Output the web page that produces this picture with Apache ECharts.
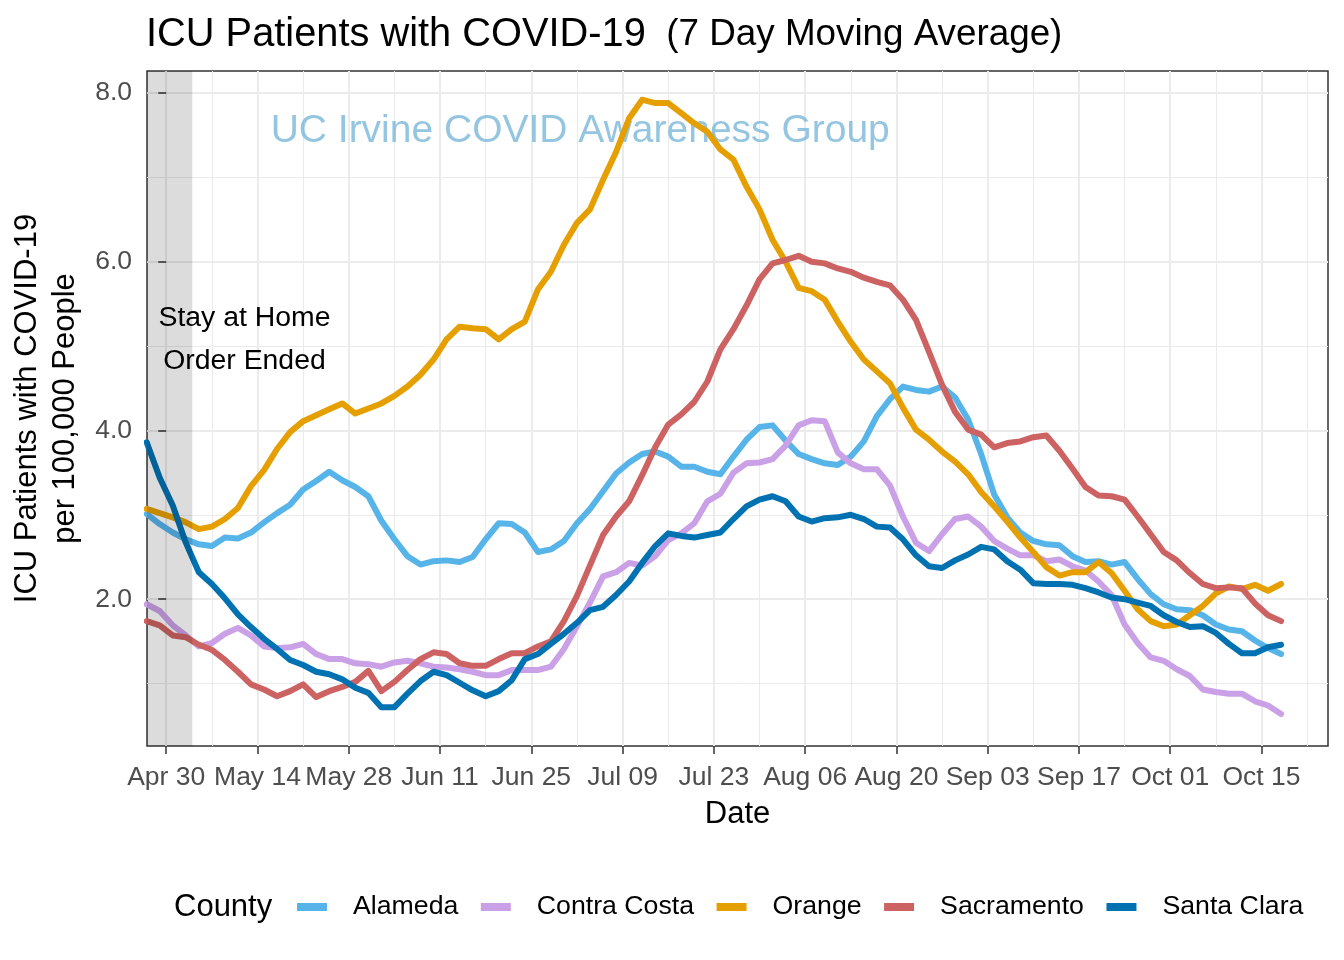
<!DOCTYPE html>
<html><head><meta charset="utf-8">
<script src="https://cdn.jsdelivr.net/npm/echarts@6/dist/echarts.min.js"></script>
<style>html,body{margin:0;padding:0;background:#fff}#c{width:1344px;height:960px}</style>
</head><body><div id="c"></div>
<script>
// days after Apr 30, 2020 (sampled every 2 days)
const days = [-3,-1,1,3,5,7,9,11,13,15,17,19,21,23,25,27,29,31,33,35,37,39,41,43,45,47,49,51,53,55,57,59,61,63,65,67,69,71,73,75,77,79,81,83,85,87,89,91,93,95,97,99,101,103,105,107,109,111,113,115,117,119,121,123,125,127,129,131,133,135,137,139,141,143,145,147,149,151,153,155,157,159,161,163,165,167,169,171];

const alameda = [3.01,2.89,2.79,2.71,2.65,2.63,2.73,2.72,2.79,2.91,3.02,3.12,3.30,3.40,3.51,3.41,3.33,3.22,2.93,2.71,2.51,2.41,2.45,2.46,2.44,2.50,2.71,2.90,2.89,2.79,2.56,2.59,2.69,2.90,3.07,3.28,3.49,3.62,3.72,3.75,3.69,3.57,3.57,3.51,3.48,3.69,3.89,4.04,4.06,3.88,3.72,3.66,3.61,3.59,3.69,3.87,4.17,4.37,4.52,4.48,4.46,4.52,4.39,4.13,3.72,3.24,2.97,2.79,2.69,2.65,2.64,2.51,2.44,2.45,2.41,2.44,2.24,2.06,1.94,1.88,1.87,1.81,1.70,1.64,1.62,1.51,1.42,1.35];

const contraCosta = [1.94,1.86,1.69,1.57,1.44,1.48,1.59,1.66,1.57,1.44,1.42,1.43,1.47,1.35,1.29,1.29,1.24,1.23,1.20,1.25,1.27,1.24,1.20,1.19,1.17,1.14,1.10,1.10,1.16,1.16,1.16,1.20,1.41,1.68,1.96,2.27,2.32,2.43,2.40,2.51,2.70,2.78,2.90,3.16,3.25,3.50,3.61,3.62,3.66,3.82,4.06,4.12,4.11,3.74,3.61,3.54,3.54,3.35,2.98,2.67,2.57,2.77,2.95,2.98,2.86,2.69,2.60,2.52,2.52,2.45,2.47,2.39,2.34,2.21,2.05,1.70,1.48,1.31,1.27,1.17,1.09,0.93,0.90,0.88,0.88,0.79,0.74,0.64];

const orange = [3.07,3.02,2.97,2.91,2.83,2.86,2.95,3.08,3.34,3.53,3.78,3.98,4.11,4.18,4.25,4.32,4.20,4.26,4.32,4.41,4.52,4.66,4.84,5.08,5.23,5.21,5.20,5.08,5.20,5.29,5.67,5.88,6.20,6.46,6.62,6.97,7.30,7.70,7.92,7.88,7.88,7.76,7.64,7.54,7.33,7.21,6.89,6.62,6.26,6.00,5.69,5.65,5.55,5.29,5.05,4.84,4.70,4.56,4.27,4.01,3.89,3.75,3.63,3.48,3.27,3.10,2.92,2.73,2.56,2.38,2.28,2.32,2.32,2.44,2.31,2.10,1.88,1.74,1.68,1.70,1.81,1.92,2.07,2.15,2.12,2.17,2.10,2.18];

const sacramento = [1.74,1.69,1.57,1.55,1.46,1.40,1.28,1.14,0.99,0.93,0.85,0.91,0.99,0.84,0.91,0.96,1.02,1.15,0.91,1.02,1.16,1.29,1.37,1.35,1.24,1.21,1.21,1.29,1.36,1.36,1.44,1.50,1.74,2.04,2.40,2.76,2.98,3.16,3.47,3.80,4.07,4.19,4.34,4.58,4.96,5.20,5.48,5.79,5.98,6.02,6.07,6.00,5.98,5.92,5.88,5.81,5.76,5.72,5.55,5.31,4.93,4.54,4.22,4.01,3.95,3.80,3.85,3.87,3.92,3.94,3.76,3.55,3.33,3.23,3.22,3.18,2.98,2.77,2.56,2.46,2.31,2.18,2.13,2.14,2.13,1.95,1.81,1.74];

const santaClara = [3.86,3.44,3.11,2.67,2.32,2.18,2.01,1.82,1.67,1.53,1.41,1.28,1.22,1.14,1.11,1.05,0.95,0.89,0.72,0.72,0.88,1.03,1.14,1.10,1.01,0.92,0.85,0.91,1.04,1.29,1.35,1.47,1.59,1.72,1.87,1.91,2.05,2.21,2.43,2.63,2.78,2.75,2.73,2.76,2.79,2.95,3.10,3.18,3.22,3.16,2.98,2.92,2.96,2.97,3.00,2.95,2.86,2.85,2.71,2.52,2.39,2.37,2.46,2.53,2.62,2.59,2.45,2.35,2.19,2.18,2.18,2.17,2.13,2.08,2.02,2.00,1.96,1.92,1.81,1.73,1.67,1.68,1.60,1.47,1.36,1.36,1.43,1.46];

const countyNames = ['Alameda','Contra Costa','Orange','Sacramento','Santa Clara'];
const countyColors = ['#56B4E9','#CAA0E6','#E69F00','#CD6262','#0072B2'];

const tickDays = [0,14,28,42,56,70,84,98,112,126,140,154,168];
const tickLabels = ['Apr 30','May 14','May 28','Jun 11','Jun 25','Jul 09','Jul 23','Aug 06','Aug 20','Sep 03','Sep 17','Oct 01','Oct 15'];
const minorDays = [7,21,35,49,63,77,91,105,119,133,147,161,175];
const yTicks = [2,4,6,8];
const yMinor = [1,3,5,7];

// axis extents and annotation anchors
const xMin = -2.95, xMax = 178.2, yMin = 0.26, yMax = 8.26;
const stayHomeEnd = 4;
const stayHomeLabelAt = [12, 5.08];
const watermarkAt = [63.5, 7.55];

const FONT = 'Liberation Sans, Arial, sans-serif';
const seriesData = [alameda, contraCosta, orange, sacramento, santaClara];

const series = countyNames.map((name, i) => {
  const s = {
    name: name,
    type: 'line',
    xAxisIndex: 0, yAxisIndex: 0,
    showSymbol: false,
    symbol: 'none',
    data: days.map((d, k) => [d, seriesData[i][k]]),
    lineStyle: { color: countyColors[i], width: 6, join: 'round', cap: 'round' },
    itemStyle: { color: countyColors[i] },
    emphasis: { disabled: true },
    z: 2
  };
  if (i === 0) {
    s.markPoint = {
      z: 1, silent: true, symbol: 'rect', symbolSize: 1,
      itemStyle: { color: 'rgba(0,0,0,0)' },
      data: [
        { coord: watermarkAt, label: { show: true, position: 'inside', formatter: 'UC Irvine COVID Awareness Group', fontFamily: FONT, fontSize: 39, color: 'rgba(107,174,214,0.72)' } },
        { coord: stayHomeLabelAt, label: { show: true, position: 'inside', formatter: 'Stay at Home\nOrder Ended', fontFamily: FONT, fontSize: 28.4, lineHeight: 43, color: '#000', align: 'center' } }
      ]
    };
  }
  if (i === 4) {
    s.markArea = {
      z: 10, silent: true,
      itemStyle: { color: 'rgba(0,0,0,0.137)' },
      data: [[{ xAxis: xMin }, { xAxis: stayHomeEnd }]]
    };
  }
  return s;
});

const chart = echarts.init(document.getElementById('c'), null, { renderer: 'canvas' });
chart.setOption({
  animation: false,
  backgroundColor: '#fff',
  textStyle: { fontFamily: FONT },
  title: [
    { text: '{a|ICU Patients with COVID-19}{b|  (7 Day Moving Average)}', left: 146, top: 12, padding: 0,
      textStyle: { fontWeight: 'normal', rich: {
        a: { fontFamily: FONT, fontSize: 39.8, fontWeight: 'normal', color: '#000', lineHeight: 46 },
        b: { fontFamily: FONT, fontSize: 36.8, fontWeight: 'normal', color: '#000', lineHeight: 46 } } } },
    { text: 'County', left: 174, top: 889, padding: 0,
      textStyle: { fontFamily: FONT, fontSize: 31, fontWeight: 'normal', color: '#000', lineHeight: 36 } }
  ],
  legend: {
    data: countyNames, left: 297, top: 892, padding: 0, itemWidth: 30, itemHeight: 8, itemGap: 22.5,
    icon: 'rect', selectedMode: false,
    textStyle: { fontFamily: FONT, fontSize: 26.7, color: '#000', lineHeight: 30, padding: [0, 0, 0, 21] }
  },
  grid: { left: 147, right: 16, top: 71, bottom: 214, show: true, borderColor: '#333333', borderWidth: 1.5, backgroundColor: 'transparent', containLabel: false },
  xAxis: [
    { type: 'value', min: xMin, max: xMax, position: 'bottom',
      name: 'Date', nameLocation: 'middle', nameGap: 53,
      nameTextStyle: { fontFamily: FONT, fontSize: 31, color: '#000' },
      axisLine: { show: false },
      axisTick: { show: true, customValues: tickDays, length: 8, lineStyle: { color: '#333', width: 1.5 } },
      axisLabel: { customValues: tickDays, formatter: v => tickLabels[tickDays.indexOf(v)], color: '#4D4D4D', fontFamily: FONT, fontSize: 26.5, margin: 18 },
      splitLine: { show: true, lineStyle: { color: '#EBEBEB', width: 2 } } },
    { type: 'value', min: xMin, max: xMax, position: 'bottom',
      axisLine: { show: false },
      axisTick: { show: false, customValues: minorDays },
      axisLabel: { show: false, customValues: minorDays },
      splitLine: { show: true, lineStyle: { color: '#EBEBEB', width: 1 } } }
  ],
  yAxis: [
    { type: 'value', min: yMin, max: yMax,
      name: 'ICU Patients with COVID-19\nper 100,000 People', nameLocation: 'middle', nameRotate: 90, nameGap: 56,
      nameTextStyle: { fontFamily: FONT, fontSize: 31, color: '#000', lineHeight: 38, align: 'center' },
      axisLine: { show: false },
      axisTick: { show: true, customValues: yTicks, length: 8, lineStyle: { color: '#333', width: 1.5 } },
      axisLabel: { customValues: yTicks, formatter: v => v.toFixed(1), color: '#4D4D4D', fontFamily: FONT, fontSize: 26.5, margin: 15 },
      splitLine: { show: true, lineStyle: { color: '#EBEBEB', width: 2 } } },
    { type: 'value', min: yMin, max: yMax,
      axisLine: { show: false },
      axisTick: { show: false, customValues: yMinor },
      axisLabel: { show: false, customValues: yMinor },
      splitLine: { show: true, lineStyle: { color: '#EBEBEB', width: 1 } } }
  ],
  series: series
});
</script></body></html>
